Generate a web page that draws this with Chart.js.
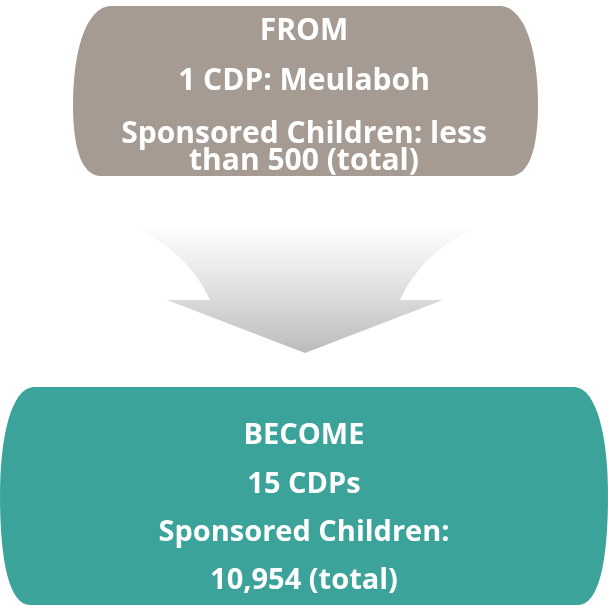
<!DOCTYPE html>
<html>
<head>
<meta charset="utf-8">
<script src="https://cdn.jsdelivr.net/npm/chart.js@4"></script>
<style>
  html, body { margin: 0; padding: 0; background: #fff; }
  canvas { display: block; }
</style>
</head>
<body>
<canvas id="myChart" width="608" height="606"></canvas>
<script>
// stages of the diagram
var stages = ['FROM', 'BECOME'];
var cdpLines = ['1 CDP: Meulaboh', '15 CDPs'];
var childLines = [
  ['Sponsored Children: less', 'than 500 (total)'],
  ['Sponsored Children:', '10,954 (total)'],
];

// box outlines in page units (x 0-608, y 0-606)
var boxes = [
  { l: 73, r: 538, t: 6, b: 176, mid: 105, top: 37, bot: 28, color: '#a69b93', base: [40, 90, 143, 170], size: 30 },
  { l: 0, r: 608, t: 387, b: 605, mid: 495, top: 33, bot: 30, color: '#3ca39a', base: [444, 493, 541, 589], size: 29 },
];

function barrel(ctx, X, Y, b) {
  var l = X(b.l), r = X(b.r), t = Y(b.t), bt = Y(b.b), m = Y(b.mid);
  ctx.beginPath();
  ctx.moveTo(l + b.top, t);
  ctx.lineTo(r - b.top, t);
  ctx.bezierCurveTo(r - b.top * 0.35, t + 2, r, t + (m - t) * 0.45, r, m);
  ctx.bezierCurveTo(r, m + (bt - m) * 0.6, r - b.bot * 0.3, bt, r - b.bot, bt);
  ctx.lineTo(l + b.bot, bt);
  ctx.bezierCurveTo(l + b.bot * 0.3, bt, l, m + (bt - m) * 0.6, l, m);
  ctx.bezierCurveTo(l, t + (m - t) * 0.45, l + b.top * 0.35, t + 2, l + b.top, t);
  ctx.closePath();
  ctx.fillStyle = b.color;
  ctx.fill();
}

var diagram = {
  id: 'diagram',
  afterDraw: function (chart) {
    var ctx = chart.ctx;
    var xs = chart.scales.x, ys = chart.scales.y;
    var X = function (v) { return xs.getPixelForValue(v); };
    var Y = function (v) { return ys.getPixelForValue(v); };
    ctx.save();

    // arrow
    var cx = 305;
    var g = ctx.createLinearGradient(0, Y(229), 0, Y(353));
    g.addColorStop(0, '#fcfcfc');
    g.addColorStop(0.3, '#ececec');
    g.addColorStop(1, '#bcbcbc');
    ctx.beginPath();
    ctx.moveTo(X(138), Y(229));
    ctx.lineTo(X(2 * cx - 138), Y(229));
    ctx.quadraticCurveTo(X(2 * cx - 190), Y(255), X(2 * cx - 210), Y(300));
    ctx.lineTo(X(2 * cx - 167), Y(300));
    ctx.lineTo(X(cx), Y(353));
    ctx.lineTo(X(167), Y(300));
    ctx.lineTo(X(210), Y(300));
    ctx.quadraticCurveTo(X(190), Y(255), X(138), Y(229));
    ctx.closePath();
    ctx.fillStyle = g;
    ctx.fill();

    // boxes and text
    boxes.forEach(function (b, i) {
      barrel(ctx, X, Y, b);
      var lines = [stages[i], cdpLines[i]].concat(childLines[i]);
      ctx.fillStyle = '#ffffff';
      ctx.textAlign = 'center';
      ctx.textBaseline = 'alphabetic';
      ctx.font = 'bold ' + b.size + 'px "Open Sans"';
      lines.forEach(function (txt, j) {
        ctx.fillText(txt, X(304), Y(b.base[j]));
      });
    });
    ctx.restore();
  },
};

function draw() {
  var ctx = document.getElementById('myChart').getContext('2d');
  new Chart(ctx, {
    type: 'scatter',
    data: { datasets: [{ data: [] }] },
    options: {
      responsive: false,
      animation: false,
      layout: { padding: 0 },
      plugins: { legend: { display: false }, tooltip: { enabled: false } },
      scales: {
        x: { type: 'linear', min: 0, max: 608, display: false },
        y: { type: 'linear', min: 0, max: 606, reverse: true, display: false },
      },
    },
    plugins: [diagram],
  });
}

if (document.fonts && document.fonts.load) {
  document.fonts.load('bold 30px "Open Sans"').then(draw, draw);
} else {
  draw();
}
</script>
</body>
</html>
